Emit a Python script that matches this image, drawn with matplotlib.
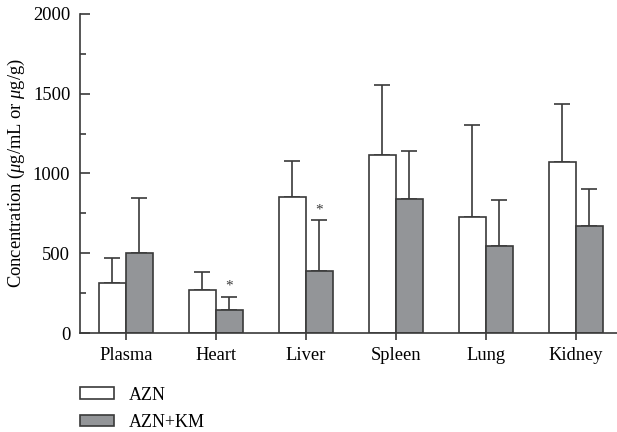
import numpy as np
import matplotlib.pyplot as plt
from matplotlib.patches import Patch

plt.rcParams['font.family'] = 'Liberation Serif'
plt.rcParams['mathtext.fontset'] = 'custom'
plt.rcParams['mathtext.rm'] = 'Liberation Serif'
plt.rcParams['mathtext.it'] = 'Liberation Serif:italic'

# data
organs = ["Plasma", "Heart", "Liver", "Spleen", "Lung", "Kidney"]
azn = [315, 270, 851, 1114, 725, 1070]
azn_sd = [157, 112, 229, 441, 581, 364]
azn_km = [503, 144, 387, 838, 545, 673]
azn_km_sd = [342, 84, 320, 303, 289, 230]
signif = [False, True, True, False, False, False]

edge = "#3a3a3a"
grey = "#939598"
w = 0.3
fs = 13.3

fig = plt.figure(figsize=(6.17, 4.32), dpi=100)
ax = fig.add_axes([0.1297, 0.229, 0.8703, 0.739])

x = np.arange(len(organs))
ax.bar(x - w/2, azn, w, color="white", edgecolor=edge, linewidth=1.2, zorder=2)
ax.bar(x + w/2, azn_km, w, color=grey, edgecolor=edge, linewidth=1.2, zorder=2)
ax.errorbar(x - w/2, azn, yerr=[np.zeros(6), azn_sd], fmt="none", ecolor=edge,
            elinewidth=1.2, capsize=5.5, capthick=1.2, zorder=1)
ax.errorbar(x + w/2, azn_km, yerr=[np.zeros(6), azn_km_sd], fmt="none", ecolor=edge,
            elinewidth=1.2, capsize=5.5, capthick=1.2, zorder=1)

for i, s in enumerate(signif):
    if s:
        ax.text(x[i] + w/2, azn_km[i] + azn_km_sd[i] + 25, "*", ha="center",
                va="bottom", fontsize=11, color=edge)

ax.set_xlim(-0.508, 5.46)
ax.set_ylim(0, 2000)
ax.set_yticks([0, 500, 1000, 1500, 2000])
ax.set_yticks([250, 750, 1250, 1750], minor=True)
ax.set_xticks(x)
ax.set_xticklabels(organs)
ax.tick_params(axis="both", which="both", color=edge, width=1.2, labelsize=fs)
ax.tick_params(axis="y", which="major", direction="in", length=7.2, pad=7)
ax.tick_params(axis="y", which="minor", direction="in", length=4.3)
ax.tick_params(axis="x", direction="out", length=5, pad=5)
for side in ["top", "right"]:
    ax.spines[side].set_visible(False)
for side in ["left", "bottom"]:
    ax.spines[side].set_color(edge)
    ax.spines[side].set_linewidth(1.2)

ax.set_ylabel(r"Concentration ($\mu$g/mL or $\mu$g/g)", fontsize=fs)
ax.yaxis.set_label_coords(-0.099, 0.5)

handles = [Patch(facecolor="white", edgecolor=edge, linewidth=1.2, label="AZN"),
           Patch(facecolor=grey, edgecolor=edge, linewidth=1.2, label="AZN+KM")]
fig.legend(handles=handles, loc="upper left", bbox_to_anchor=(0.118, 0.122),
           frameon=False, fontsize=13, handlelength=1.9, handleheight=0.6,
           labelspacing=0.58, borderaxespad=0, handletextpad=0.8)

fig.savefig("out.png", dpi=100)
